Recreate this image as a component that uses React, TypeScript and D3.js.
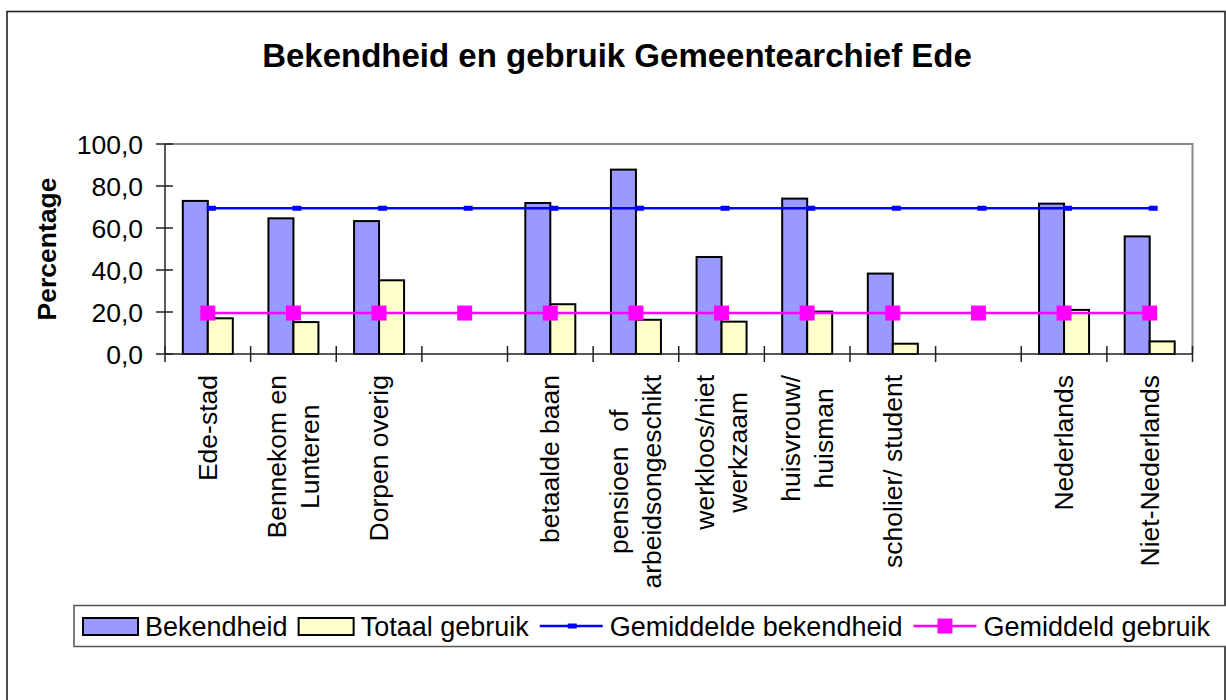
import { useEffect, useRef } from 'react';
import * as d3 from 'd3';

// category labels, '\n' splits a label over two lines
const categories = [
  'Ede-stad',
  'Bennekom en\nLunteren',
  'Dorpen overig',
  '',
  'betaalde baan',
  'pensioen  of\narbeidsongeschikt',
  'werkloos/niet\nwerkzaam',
  'huisvrouw/\nhuisman',
  'scholier/ student',
  '',
  'Nederlands',
  'Niet-Nederlands',
];
const bekendheid = [72.9, 64.6, 63.3, null, 71.9, 87.8, 46.2, 74.0, 38.3, null, 71.6, 56.0];
const gebruik = [17.0, 15.2, 35.1, null, 23.7, 16.3, 15.4, 20.2, 4.9, null, 21.0, 6.0];
const gemBekendheid = [69.4, 69.4, 69.4, 69.4, 69.4, 69.4, 69.4, 69.4, 69.4, 69.4, 69.4, 69.4];
const gemGebruik = [19.5, 19.5, 19.5, 19.5, 19.5, 19.5, 19.5, 19.5, 19.5, 19.5, 19.5, 19.5];
const yTicks = [0, 20, 40, 60, 80, 100];

const FONT = '"Liberation Sans", Arial, Helvetica, sans-serif';
const BLUE_BAR = '#9999FF';
const YELLOW_BAR = '#FFFFCC';
const BLUE_LINE = '#0000FF';
const MAGENTA = '#FF00FF';

export default function App() {
  const ref = useRef<SVGSVGElement | null>(null);

  useEffect(() => {
    const W = 1226;
    const H = 700;
    const plot = { left: 165, right: 1192.5, top: 144, bottom: 354 };

    const svg = d3.select(ref.current);
    svg.selectAll('*').remove();
    svg.attr('width', W).attr('height', H).style('font-family', FONT);

    svg.append('rect').attr('width', W).attr('height', H).attr('fill', '#fff');

    // outer chart border
    svg
      .append('rect')
      .attr('x', 7)
      .attr('y', 11.5)
      .attr('width', 1218)
      .attr('height', 720)
      .attr('fill', 'none')
      .attr('stroke', '#222')
      .attr('stroke-width', 1.6);

    // title
    svg
      .append('text')
      .attr('x', 617)
      .attr('y', 67)
      .attr('text-anchor', 'middle')
      .style('font-size', '33px')
      .style('font-weight', 'bold')
      .text('Bekendheid en gebruik Gemeentearchief Ede');

    const x = d3
      .scaleBand<number>()
      .domain(categories.map((_, i) => i))
      .range([plot.left, plot.right]);
    const y = d3.scaleLinear().domain([0, 100]).range([plot.bottom, plot.top]);
    const bw = x.bandwidth() * 0.292;
    const cx = (i: number) => x(i)! + x.bandwidth() / 2;

    // plot area frame (top/right gray)
    svg
      .append('path')
      .attr('d', `M${plot.left},${plot.top}H${plot.right}V${plot.bottom}`)
      .attr('fill', 'none')
      .attr('stroke', '#888')
      .attr('stroke-width', 2);

    // bars
    const barG = svg.append('g');
    barG
      .selectAll('rect.b')
      .data(bekendheid.map((v, i) => ({ v, i })).filter((d) => d.v !== null))
      .join('rect')
      .attr('x', (d) => cx(d.i) - bw)
      .attr('y', (d) => y(d.v as number))
      .attr('width', bw)
      .attr('height', (d) => y(0) - y(d.v as number))
      .attr('fill', BLUE_BAR)
      .attr('stroke', '#000')
      .attr('stroke-width', 2);
    barG
      .selectAll('rect.g')
      .data(gebruik.map((v, i) => ({ v, i })).filter((d) => d.v !== null))
      .join('rect')
      .attr('x', (d) => cx(d.i))
      .attr('y', (d) => y(d.v as number))
      .attr('width', bw)
      .attr('height', (d) => y(0) - y(d.v as number))
      .attr('fill', YELLOW_BAR)
      .attr('stroke', '#000')
      .attr('stroke-width', 2);

    // axes
    const axisG = svg.append('g').attr('stroke', '#222').attr('stroke-width', 1.5);
    axisG.append('line').attr('x1', plot.left).attr('x2', plot.left).attr('y1', plot.top).attr('y2', plot.bottom);
    axisG.append('line').attr('x1', plot.left).attr('x2', plot.right).attr('y1', plot.bottom).attr('y2', plot.bottom);
    yTicks.forEach((t) => {
      axisG.append('line').attr('x1', plot.left - 9).attr('x2', plot.left + 8).attr('y1', y(t)).attr('y2', y(t));
    });
    d3.range(categories.length + 1).forEach((i) => {
      const xx = i < categories.length ? x(i)! : plot.right;
      axisG.append('line').attr('x1', xx).attr('x2', xx).attr('y1', plot.bottom - 8).attr('y2', plot.bottom + 8);
    });

    const fmt = (v: number) => d3.format('.1f')(v).replace('.', ',');
    svg
      .append('g')
      .selectAll('text')
      .data(yTicks)
      .join('text')
      .attr('x', 143)
      .attr('y', (d) => y(d))
      .attr('dy', '0.36em')
      .attr('text-anchor', 'end')
      .style('font-size', '26.5px')
      .text((d) => fmt(d));

    // y-axis title
    svg
      .append('text')
      .attr('transform', `translate(56,${(plot.top + plot.bottom) / 2}) rotate(-90)`)
      .attr('text-anchor', 'middle')
      .style('font-size', '26.5px')
      .style('font-weight', 'bold')
      .text('Percentage');

    // average lines
    const line = d3
      .line<number>()
      .x((_, i) => cx(i))
      .y((d) => y(d));
    svg
      .append('path')
      .attr('d', line(gemBekendheid))
      .attr('fill', 'none')
      .attr('stroke', BLUE_LINE)
      .attr('stroke-width', 2.5);
    svg
      .append('g')
      .selectAll('rect')
      .data(gemBekendheid)
      .join('rect')
      .attr('x', (_, i) => cx(i) - 1)
      .attr('y', (d) => y(d) - 2.5)
      .attr('width', 9)
      .attr('height', 5)
      .attr('fill', BLUE_LINE);
    svg
      .append('path')
      .attr('d', line(gemGebruik))
      .attr('fill', 'none')
      .attr('stroke', MAGENTA)
      .attr('stroke-width', 2.5);
    svg
      .append('g')
      .selectAll('rect')
      .data(gemGebruik)
      .join('rect')
      .attr('x', (_, i) => cx(i) - 7.5)
      .attr('y', (d) => y(d) - 7.5)
      .attr('width', 15)
      .attr('height', 15)
      .attr('fill', MAGENTA);

    // category labels, rotated, top-aligned at y=375
    const lineH = 33;
    categories.forEach((label, i) => {
      if (!label) return;
      const lines = label.split('\n');
      const g = svg.append('g').attr('transform', `translate(${cx(i)},375) rotate(-90)`);
      const texts = lines.map((ln, k) =>
        g
          .append('text')
          .attr('y', -((lines.length - 1) * lineH) / 2 + k * lineH + 9)
          .attr('text-anchor', 'middle')
          .style('font-size', '26.5px')
          .style('white-space', 'pre')
          .text(ln),
      );
      const maxW = d3.max(texts, (t) => (t.node() as SVGTextElement).getComputedTextLength()) || 0;
      texts.forEach((t) => t.attr('x', -maxW / 2));
    });

    // legend
    const leg = svg.append('g');
    leg
      .append('rect')
      .attr('x', 74)
      .attr('y', 605.5)
      .attr('width', 1160)
      .attr('height', 41)
      .attr('fill', '#fff')
      .attr('stroke', '#555')
      .attr('stroke-width', 1.5);
    const items = [
      { label: 'Bekendheid', kind: 'bar', color: BLUE_BAR },
      { label: 'Totaal gebruik', kind: 'bar', color: YELLOW_BAR },
      { label: 'Gemiddelde bekendheid', kind: 'dash', color: BLUE_LINE },
      { label: 'Gemiddeld gebruik', kind: 'square', color: MAGENTA },
    ];
    let lx = 83;
    const ly = 626;
    items.forEach((it) => {
      if (it.kind === 'bar') {
        leg
          .append('rect')
          .attr('x', lx)
          .attr('y', ly - 8)
          .attr('width', 55)
          .attr('height', 17)
          .attr('fill', it.color)
          .attr('stroke', '#000')
          .attr('stroke-width', 2);
        lx += 55;
      } else {
        leg
          .append('line')
          .attr('x1', lx)
          .attr('x2', lx + 63)
          .attr('y1', ly)
          .attr('y2', ly)
          .attr('stroke', it.color)
          .attr('stroke-width', 2.5);
        if (it.kind === 'dash') {
          leg.append('rect').attr('x', lx + 28).attr('y', ly - 2.5).attr('width', 9).attr('height', 5).attr('fill', it.color);
        } else {
          leg.append('rect').attr('x', lx + 24).attr('y', ly - 7.5).attr('width', 15).attr('height', 15).attr('fill', it.color);
        }
        lx += 63;
      }
      const t = leg
        .append('text')
        .attr('x', lx + 7)
        .attr('y', ly)
        .attr('dy', '0.36em')
        .style('font-size', '27px')
        .text(it.label);
      lx += 7 + (t.node() as SVGTextElement).getComputedTextLength() + 11;
    });
  }, []);

  return <svg ref={ref} style={{ position: 'absolute', left: 0, top: 0, display: 'block' }} />;
}
